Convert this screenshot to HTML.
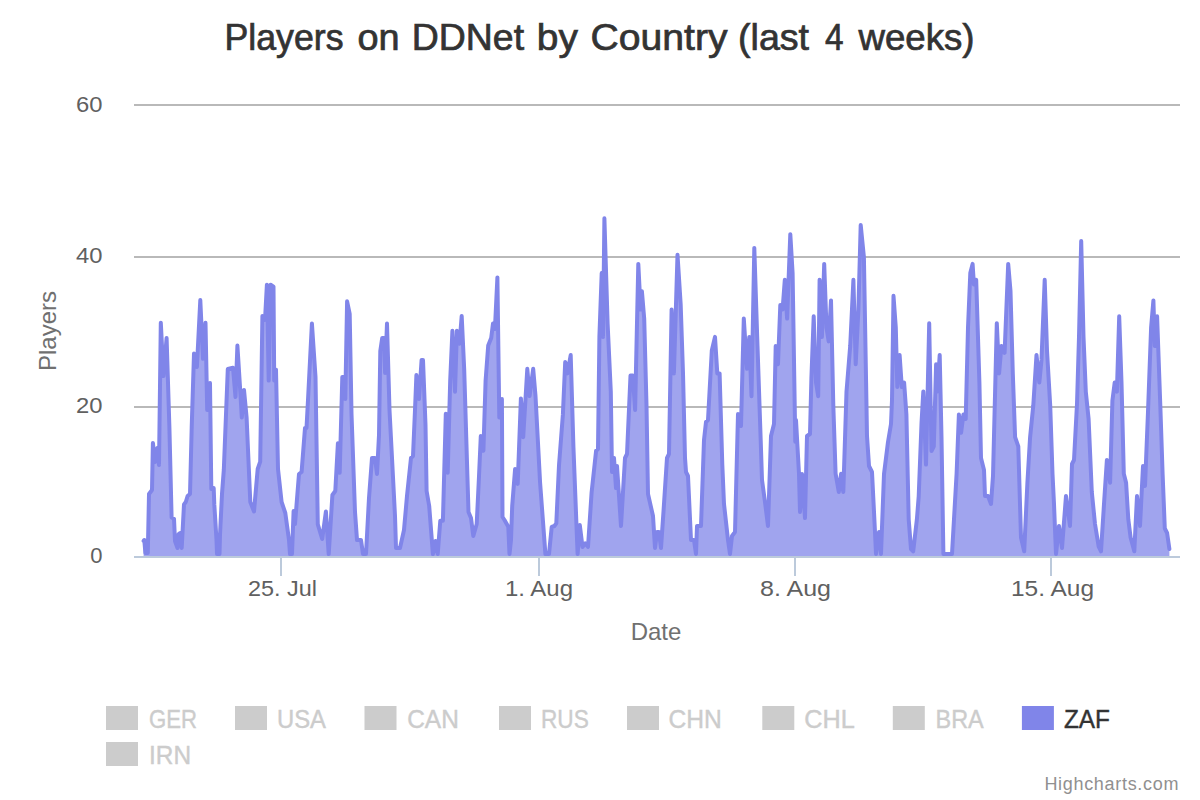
<!DOCTYPE html>
<html><head><meta charset="utf-8">
<style>
html,body{margin:0;padding:0;background:#fff;}
body{width:1200px;height:800px;overflow:hidden;position:relative;font-family:"Liberation Sans", sans-serif;}
svg{position:absolute;left:0;top:0;}
text{font-family:"Liberation Sans", sans-serif;}
</style></head><body>
<svg width="1200" height="800" viewBox="0 0 1200 800">
<rect x="0" y="0" width="1200" height="800" fill="#ffffff"/>
<g fill="#b9b9b9">
<rect x="134" y="104" width="1046" height="2"/>
<rect x="134" y="256" width="1046" height="2"/>
<rect x="134" y="406" width="1046" height="2"/>
</g>
<defs><clipPath id="pc"><rect x="134" y="0" width="1046" height="556.5"/></clipPath></defs>
<g clip-path="url(#pc)">
<path d="M143.6 541.0 L144.3 540.0 L145.4 553.0 L147.8 553.0 L149.0 494.0 L152.0 490.0 L152.9 443.0 L155.0 462.0 L157.3 448.0 L159.0 465.0 L160.8 322.7 L163.5 376.0 L166.6 338.0 L169.4 427.5 L169.4 427.5 L171.6 517.5 L174.0 518.7 L175.0 541.0 L177.5 548.0 L178.7 534.0 L180.0 533.0 L181.7 548.0 L184.0 504.4 L185.8 502.0 L187.6 496.0 L190.0 494.0 L191.7 427.5 L191.7 427.5 L194.0 353.6 L196.9 367.0 L200.3 300.0 L203.0 358.8 L205.5 322.7 L207.2 410.0 L210.0 383.0 L211.3 489.0 L212.0 488.0 L213.7 488.0 L214.3 504.4 L216.5 540.0 L217.0 554.0 L219.5 554.0 L220.0 535.0 L222.0 494.0 L223.8 470.0 L227.8 369.0 L233.0 367.7 L235.5 397.0 L237.4 345.6 L240.3 391.7 L241.8 417.5 L244.0 390.0 L246.6 417.5 L250.3 502.0 L254.0 511.5 L257.7 469.0 L260.2 461.7 L262.4 316.0 L265.0 319.8 L266.9 284.7 L268.7 380.6 L270.6 284.7 L273.5 286.6 L274.2 380.6 L276.0 369.6 L278.0 469.0 L281.6 502.0 L285.3 513.0 L289.0 540.0 L290.0 554.0 L292.0 554.0 L293.6 511.0 L295.0 524.0 L299.0 474.0 L301.6 472.0 L305.0 428.0 L306.5 428.0 L308.0 400.0 L311.9 323.5 L315.5 377.0 L317.8 524.4 L322.2 539.0 L325.9 511.5 L328.7 554.0 L332.4 495.0 L335.3 491.0 L337.9 443.3 L339.7 472.8 L342.3 377.0 L344.5 377.0 L345.3 399.0 L347.1 301.3 L349.7 314.0 L351.5 413.8 L355.0 512.0 L357.0 540.0 L361.0 540.0 L363.0 554.0 L366.0 554.0 L369.0 498.0 L372.0 458.0 L375.0 458.0 L377.0 474.0 L379.0 435.0 L380.3 351.0 L382.2 338.0 L384.0 338.0 L385.1 373.0 L387.0 323.5 L389.5 410.0 L392.0 458.0 L395.0 516.0 L396.0 548.0 L400.0 548.0 L404.0 530.0 L407.0 496.0 L411.0 458.0 L413.0 456.0 L415.0 410.0 L416.4 375.0 L419.0 399.0 L421.6 360.0 L423.0 360.0 L425.5 425.0 L426.6 491.0 L429.2 506.0 L432.9 554.0 L435.5 541.0 L437.7 554.0 L440.3 520.7 L442.9 520.7 L445.8 413.8 L447.7 472.8 L450.2 380.6 L452.4 330.8 L455.0 391.7 L456.9 330.8 L459.5 343.7 L461.7 316.0 L464.2 369.6 L467.2 469.0 L468.5 512.0 L471.0 518.0 L473.3 536.0 L476.7 524.0 L479.0 476.5 L479.0 476.5 L480.8 436.0 L483.4 450.7 L485.6 380.6 L488.2 345.6 L491.2 338.0 L493.0 323.5 L494.9 329.0 L497.4 277.4 L499.3 417.5 L501.9 399.0 L502.5 517.0 L504.5 520.0 L507.0 524.4 L508.3 527.0 L509.5 554.0 L511.0 540.0 L512.2 506.0 L515.1 469.0 L517.7 483.9 L520.9 398.4 L523.2 437.2 L527.3 368.8 L529.6 396.0 L533.2 368.8 L535.5 396.0 L540.1 482.8 L545.4 554.0 L549.0 554.0 L551.7 527.0 L554.4 526.0 L556.3 523.3 L559.0 465.3 L562.9 414.4 L565.2 362.0 L567.5 373.4 L570.7 355.0 L573.4 446.4 L577.6 554.0 L579.8 525.1 L582.5 546.9 L585.3 543.3 L588.0 546.9 L591.6 492.5 L596.1 450.8 L598.0 449.0 L599.4 336.9 L601.7 273.0 L603.0 336.9 L604.4 218.2 L607.6 323.2 L610.8 391.6 L612.0 472.0 L614.0 458.0 L616.0 488.0 L617.0 466.0 L621.0 526.0 L625.0 458.0 L627.0 454.0 L630.5 375.6 L632.8 375.6 L635.1 409.9 L638.3 263.9 L640.6 309.5 L641.9 291.2 L644.2 318.6 L646.5 405.3 L648.0 494.0 L653.0 516.0 L655.0 548.0 L657.0 532.0 L659.0 532.0 L661.0 548.0 L663.6 510.0 L667.0 458.0 L669.0 454.0 L671.6 309.5 L673.9 373.4 L677.5 254.7 L680.7 305.0 L683.0 373.4 L685.0 458.0 L686.0 472.0 L688.0 476.0 L691.0 540.0 L694.0 540.0 L696.0 554.0 L697.0 526.0 L701.0 526.0 L704.0 440.0 L706.0 422.0 L708.0 420.0 L711.8 350.5 L715.0 336.9 L717.3 373.4 L719.6 373.4 L722.3 464.6 L724.0 504.0 L728.0 540.0 L730.0 554.0 L732.0 536.0 L735.0 532.0 L738.0 414.0 L741.0 426.0 L743.8 318.6 L747.0 368.8 L749.3 336.9 L751.5 396.2 L754.3 247.9 L757.5 346.0 L760.7 440.0 L762.0 480.0 L765.0 502.0 L768.0 526.0 L771.0 436.0 L774.0 424.0 L775.7 346.0 L778.0 364.2 L780.3 305.0 L782.6 309.5 L784.8 279.8 L787.1 318.6 L790.3 234.2 L792.6 273.0 L795.3 441.8 L796.0 420.0 L799.0 474.0 L800.0 512.0 L802.0 474.0 L805.0 518.0 L807.0 436.0 L810.0 434.0 L811.4 378.0 L811.4 378.0 L813.7 316.3 L816.0 382.5 L818.2 396.2 L819.6 279.8 L821.9 336.9 L824.2 263.9 L826.5 327.7 L828.7 341.4 L831.0 300.4 L833.3 405.3 L835.6 473.7 L838.8 492.0 L841.1 473.7 L843.3 492.0 L846.5 391.6 L850.2 346.0 L853.4 279.8 L855.7 364.2 L858.4 309.5 L860.7 225.0 L863.9 257.0 L866.1 382.5 L867.0 436.0 L869.0 466.0 L872.0 472.0 L875.0 532.0 L876.0 554.0 L879.0 532.0 L881.0 554.0 L884.0 474.0 L888.0 442.0 L891.0 424.0 L892.0 400.0 L893.5 295.8 L893.5 295.8 L895.8 327.7 L897.3 387.0 L899.6 355.0 L901.8 387.0 L904.1 382.5 L906.4 414.4 L908.7 519.3 L911.0 549.0 L913.2 551.3 L916.9 519.3 L918.7 496.5 L921.5 423.5 L923.3 391.6 L926.0 464.6 L929.2 323.2 L931.5 451.0 L933.8 446.4 L936.1 364.2 L937.4 391.6 L939.7 355.0 L941.5 437.2 L943.4 554.0 L952.0 554.0 L956.6 473.7 L958.9 414.4 L961.1 432.7 L963.4 414.4 L965.7 419.0 L968.0 327.7 L970.3 273.0 L972.6 263.9 L973.9 284.4 L976.2 279.8 L979.4 382.5 L981.0 458.0 L984.0 470.0 L985.0 496.0 L988.0 496.0 L991.0 504.0 L993.0 476.0 L996.8 323.2 L999.1 373.4 L1001.4 346.0 L1004.6 352.8 L1008.2 263.9 L1010.5 291.2 L1012.8 373.4 L1015.1 437.2 L1018.3 446.4 L1021.0 537.6 L1024.2 551.3 L1027.4 482.8 L1030.1 437.2 L1033.3 405.3 L1036.5 355.0 L1039.3 382.5 L1041.5 359.7 L1044.7 279.8 L1047.0 350.5 L1050.2 405.3 L1052.5 473.7 L1054.0 504.0 L1056.0 554.0 L1059.0 526.0 L1062.0 548.0 L1066.0 496.0 L1070.0 526.0 L1072.0 464.0 L1074.0 460.0 L1077.0 404.0 L1079.0 336.9 L1079.0 336.9 L1081.2 241.0 L1083.5 336.9 L1085.8 391.6 L1088.6 419.0 L1091.8 492.0 L1095.0 524.0 L1098.7 546.7 L1101.0 551.3 L1104.2 501.0 L1106.9 460.0 L1110.1 482.8 L1112.4 400.7 L1114.7 382.5 L1116.9 391.6 L1119.2 316.3 L1121.5 382.5 L1123.8 473.7 L1126.1 482.8 L1128.3 519.3 L1130.6 537.6 L1134.3 551.3 L1137.0 496.0 L1140.0 526.0 L1143.0 466.0 L1145.0 486.0 L1148.0 412.0 L1151.1 327.7 L1151.1 327.7 L1153.4 300.4 L1154.8 346.0 L1157.1 316.3 L1160.3 405.3 L1162.6 473.7 L1164.8 528.5 L1167.1 533.0 L1169.4 549.0 L1169.4 559 L143.6 559 Z" fill="#a0a4ee" stroke="none"/>
<path d="M143.6 541.0 L144.3 540.0 L145.4 553.0 L147.8 553.0 L149.0 494.0 L152.0 490.0 L152.9 443.0 L155.0 462.0 L157.3 448.0 L159.0 465.0 L160.8 322.7 L163.5 376.0 L166.6 338.0 L169.4 427.5 L169.4 427.5 L171.6 517.5 L174.0 518.7 L175.0 541.0 L177.5 548.0 L178.7 534.0 L180.0 533.0 L181.7 548.0 L184.0 504.4 L185.8 502.0 L187.6 496.0 L190.0 494.0 L191.7 427.5 L191.7 427.5 L194.0 353.6 L196.9 367.0 L200.3 300.0 L203.0 358.8 L205.5 322.7 L207.2 410.0 L210.0 383.0 L211.3 489.0 L212.0 488.0 L213.7 488.0 L214.3 504.4 L216.5 540.0 L217.0 554.0 L219.5 554.0 L220.0 535.0 L222.0 494.0 L223.8 470.0 L227.8 369.0 L233.0 367.7 L235.5 397.0 L237.4 345.6 L240.3 391.7 L241.8 417.5 L244.0 390.0 L246.6 417.5 L250.3 502.0 L254.0 511.5 L257.7 469.0 L260.2 461.7 L262.4 316.0 L265.0 319.8 L266.9 284.7 L268.7 380.6 L270.6 284.7 L273.5 286.6 L274.2 380.6 L276.0 369.6 L278.0 469.0 L281.6 502.0 L285.3 513.0 L289.0 540.0 L290.0 554.0 L292.0 554.0 L293.6 511.0 L295.0 524.0 L299.0 474.0 L301.6 472.0 L305.0 428.0 L306.5 428.0 L308.0 400.0 L311.9 323.5 L315.5 377.0 L317.8 524.4 L322.2 539.0 L325.9 511.5 L328.7 554.0 L332.4 495.0 L335.3 491.0 L337.9 443.3 L339.7 472.8 L342.3 377.0 L344.5 377.0 L345.3 399.0 L347.1 301.3 L349.7 314.0 L351.5 413.8 L355.0 512.0 L357.0 540.0 L361.0 540.0 L363.0 554.0 L366.0 554.0 L369.0 498.0 L372.0 458.0 L375.0 458.0 L377.0 474.0 L379.0 435.0 L380.3 351.0 L382.2 338.0 L384.0 338.0 L385.1 373.0 L387.0 323.5 L389.5 410.0 L392.0 458.0 L395.0 516.0 L396.0 548.0 L400.0 548.0 L404.0 530.0 L407.0 496.0 L411.0 458.0 L413.0 456.0 L415.0 410.0 L416.4 375.0 L419.0 399.0 L421.6 360.0 L423.0 360.0 L425.5 425.0 L426.6 491.0 L429.2 506.0 L432.9 554.0 L435.5 541.0 L437.7 554.0 L440.3 520.7 L442.9 520.7 L445.8 413.8 L447.7 472.8 L450.2 380.6 L452.4 330.8 L455.0 391.7 L456.9 330.8 L459.5 343.7 L461.7 316.0 L464.2 369.6 L467.2 469.0 L468.5 512.0 L471.0 518.0 L473.3 536.0 L476.7 524.0 L479.0 476.5 L479.0 476.5 L480.8 436.0 L483.4 450.7 L485.6 380.6 L488.2 345.6 L491.2 338.0 L493.0 323.5 L494.9 329.0 L497.4 277.4 L499.3 417.5 L501.9 399.0 L502.5 517.0 L504.5 520.0 L507.0 524.4 L508.3 527.0 L509.5 554.0 L511.0 540.0 L512.2 506.0 L515.1 469.0 L517.7 483.9 L520.9 398.4 L523.2 437.2 L527.3 368.8 L529.6 396.0 L533.2 368.8 L535.5 396.0 L540.1 482.8 L545.4 554.0 L549.0 554.0 L551.7 527.0 L554.4 526.0 L556.3 523.3 L559.0 465.3 L562.9 414.4 L565.2 362.0 L567.5 373.4 L570.7 355.0 L573.4 446.4 L577.6 554.0 L579.8 525.1 L582.5 546.9 L585.3 543.3 L588.0 546.9 L591.6 492.5 L596.1 450.8 L598.0 449.0 L599.4 336.9 L601.7 273.0 L603.0 336.9 L604.4 218.2 L607.6 323.2 L610.8 391.6 L612.0 472.0 L614.0 458.0 L616.0 488.0 L617.0 466.0 L621.0 526.0 L625.0 458.0 L627.0 454.0 L630.5 375.6 L632.8 375.6 L635.1 409.9 L638.3 263.9 L640.6 309.5 L641.9 291.2 L644.2 318.6 L646.5 405.3 L648.0 494.0 L653.0 516.0 L655.0 548.0 L657.0 532.0 L659.0 532.0 L661.0 548.0 L663.6 510.0 L667.0 458.0 L669.0 454.0 L671.6 309.5 L673.9 373.4 L677.5 254.7 L680.7 305.0 L683.0 373.4 L685.0 458.0 L686.0 472.0 L688.0 476.0 L691.0 540.0 L694.0 540.0 L696.0 554.0 L697.0 526.0 L701.0 526.0 L704.0 440.0 L706.0 422.0 L708.0 420.0 L711.8 350.5 L715.0 336.9 L717.3 373.4 L719.6 373.4 L722.3 464.6 L724.0 504.0 L728.0 540.0 L730.0 554.0 L732.0 536.0 L735.0 532.0 L738.0 414.0 L741.0 426.0 L743.8 318.6 L747.0 368.8 L749.3 336.9 L751.5 396.2 L754.3 247.9 L757.5 346.0 L760.7 440.0 L762.0 480.0 L765.0 502.0 L768.0 526.0 L771.0 436.0 L774.0 424.0 L775.7 346.0 L778.0 364.2 L780.3 305.0 L782.6 309.5 L784.8 279.8 L787.1 318.6 L790.3 234.2 L792.6 273.0 L795.3 441.8 L796.0 420.0 L799.0 474.0 L800.0 512.0 L802.0 474.0 L805.0 518.0 L807.0 436.0 L810.0 434.0 L811.4 378.0 L811.4 378.0 L813.7 316.3 L816.0 382.5 L818.2 396.2 L819.6 279.8 L821.9 336.9 L824.2 263.9 L826.5 327.7 L828.7 341.4 L831.0 300.4 L833.3 405.3 L835.6 473.7 L838.8 492.0 L841.1 473.7 L843.3 492.0 L846.5 391.6 L850.2 346.0 L853.4 279.8 L855.7 364.2 L858.4 309.5 L860.7 225.0 L863.9 257.0 L866.1 382.5 L867.0 436.0 L869.0 466.0 L872.0 472.0 L875.0 532.0 L876.0 554.0 L879.0 532.0 L881.0 554.0 L884.0 474.0 L888.0 442.0 L891.0 424.0 L892.0 400.0 L893.5 295.8 L893.5 295.8 L895.8 327.7 L897.3 387.0 L899.6 355.0 L901.8 387.0 L904.1 382.5 L906.4 414.4 L908.7 519.3 L911.0 549.0 L913.2 551.3 L916.9 519.3 L918.7 496.5 L921.5 423.5 L923.3 391.6 L926.0 464.6 L929.2 323.2 L931.5 451.0 L933.8 446.4 L936.1 364.2 L937.4 391.6 L939.7 355.0 L941.5 437.2 L943.4 554.0 L952.0 554.0 L956.6 473.7 L958.9 414.4 L961.1 432.7 L963.4 414.4 L965.7 419.0 L968.0 327.7 L970.3 273.0 L972.6 263.9 L973.9 284.4 L976.2 279.8 L979.4 382.5 L981.0 458.0 L984.0 470.0 L985.0 496.0 L988.0 496.0 L991.0 504.0 L993.0 476.0 L996.8 323.2 L999.1 373.4 L1001.4 346.0 L1004.6 352.8 L1008.2 263.9 L1010.5 291.2 L1012.8 373.4 L1015.1 437.2 L1018.3 446.4 L1021.0 537.6 L1024.2 551.3 L1027.4 482.8 L1030.1 437.2 L1033.3 405.3 L1036.5 355.0 L1039.3 382.5 L1041.5 359.7 L1044.7 279.8 L1047.0 350.5 L1050.2 405.3 L1052.5 473.7 L1054.0 504.0 L1056.0 554.0 L1059.0 526.0 L1062.0 548.0 L1066.0 496.0 L1070.0 526.0 L1072.0 464.0 L1074.0 460.0 L1077.0 404.0 L1079.0 336.9 L1079.0 336.9 L1081.2 241.0 L1083.5 336.9 L1085.8 391.6 L1088.6 419.0 L1091.8 492.0 L1095.0 524.0 L1098.7 546.7 L1101.0 551.3 L1104.2 501.0 L1106.9 460.0 L1110.1 482.8 L1112.4 400.7 L1114.7 382.5 L1116.9 391.6 L1119.2 316.3 L1121.5 382.5 L1123.8 473.7 L1126.1 482.8 L1128.3 519.3 L1130.6 537.6 L1134.3 551.3 L1137.0 496.0 L1140.0 526.0 L1143.0 466.0 L1145.0 486.0 L1148.0 412.0 L1151.1 327.7 L1151.1 327.7 L1153.4 300.4 L1154.8 346.0 L1157.1 316.3 L1160.3 405.3 L1162.6 473.7 L1164.8 528.5 L1167.1 533.0 L1169.4 549.0" fill="none" stroke="#8085e9" stroke-width="4" stroke-linejoin="round" stroke-linecap="round"/>
</g>
<rect x="134" y="556" width="1046" height="2" fill="#bccadb"/>
<g fill="#bccadb">
<rect x="280" y="557" width="2" height="19"/>
<rect x="538" y="557" width="2" height="19"/>
<rect x="794" y="557" width="2" height="19"/>
<rect x="1050" y="557" width="2" height="19"/>
</g>
<rect x="106" y="706" width="32" height="24" fill="#cccccc"/>
<rect x="235" y="706" width="32" height="24" fill="#cccccc"/>
<rect x="364.5" y="706" width="32" height="24" fill="#cccccc"/>
<rect x="499" y="706" width="32" height="24" fill="#cccccc"/>
<rect x="627" y="706" width="32" height="24" fill="#cccccc"/>
<rect x="762.3" y="706" width="32" height="24" fill="#cccccc"/>
<rect x="892.8" y="706" width="32" height="24" fill="#cccccc"/>
<rect x="106" y="742" width="32" height="24" fill="#cccccc"/>
<rect x="1021.9" y="706" width="32" height="24" fill="#8085e9"/>
<text x="224.5" y="50" font-size="36" fill="#333333" text-anchor="start" textLength="119.06" lengthAdjust="spacingAndGlyphs" stroke="#333333" stroke-width="0.7">Players</text>
<text x="357.5" y="50" font-size="36" fill="#333333" text-anchor="start" textLength="42.13" lengthAdjust="spacingAndGlyphs" stroke="#333333" stroke-width="0.7">on</text>
<text x="411.75" y="50" font-size="36" fill="#333333" text-anchor="start" textLength="112.3" lengthAdjust="spacingAndGlyphs" stroke="#333333" stroke-width="0.7">DDNet</text>
<text x="536.75" y="50" font-size="36" fill="#333333" text-anchor="start" textLength="41.08" lengthAdjust="spacingAndGlyphs" stroke="#333333" stroke-width="0.7">by</text>
<text x="590.5" y="50" font-size="36" fill="#333333" text-anchor="start" textLength="137.0" lengthAdjust="spacingAndGlyphs" stroke="#333333" stroke-width="0.7">Country</text>
<text x="738.0" y="50" font-size="36" fill="#333333" text-anchor="start" textLength="71.06" lengthAdjust="spacingAndGlyphs" stroke="#333333" stroke-width="0.7">(last</text>
<text x="825.0" y="50" font-size="36" fill="#333333" text-anchor="start" textLength="18.52" lengthAdjust="spacingAndGlyphs" stroke="#333333" stroke-width="0.7">4</text>
<text x="858.5" y="50" font-size="36" fill="#333333" text-anchor="start" textLength="116.01" lengthAdjust="spacingAndGlyphs" stroke="#333333" stroke-width="0.7">weeks)</text>
<text x="102.5" y="112" font-size="22" fill="#606060" text-anchor="end" textLength="26.5" lengthAdjust="spacingAndGlyphs" >60</text>
<text x="102.5" y="263" font-size="22" fill="#606060" text-anchor="end" textLength="26.5" lengthAdjust="spacingAndGlyphs" >40</text>
<text x="102.5" y="412.5" font-size="22" fill="#606060" text-anchor="end" textLength="26.5" lengthAdjust="spacingAndGlyphs" >20</text>
<text x="102.5" y="563" font-size="22" fill="#606060" text-anchor="end" >0</text>
<text x="282.5" y="596" font-size="22" fill="#606060" text-anchor="middle" textLength="69" lengthAdjust="spacingAndGlyphs" >25. Jul</text>
<text x="539" y="596" font-size="22" fill="#606060" text-anchor="middle" textLength="68" lengthAdjust="spacingAndGlyphs" >1. Aug</text>
<text x="795.5" y="596" font-size="22" fill="#606060" text-anchor="middle" textLength="71" lengthAdjust="spacingAndGlyphs" >8. Aug</text>
<text x="1052.5" y="596" font-size="22" fill="#606060" text-anchor="middle" textLength="83" lengthAdjust="spacingAndGlyphs" >15. Aug</text>
<text x="656" y="640" font-size="24" fill="#707070" text-anchor="middle" >Date</text>
<text transform="translate(56,331) rotate(-90)" fill="#707070" font-size="24" text-anchor="middle">Players</text>
<text x="149" y="728" font-size="25" fill="#cccccc" text-anchor="start" textLength="48" lengthAdjust="spacingAndGlyphs" stroke="#cccccc" stroke-width="0.4">GER</text>
<text x="277" y="728" font-size="25" fill="#cccccc" text-anchor="start" textLength="49" lengthAdjust="spacingAndGlyphs" stroke="#cccccc" stroke-width="0.4">USA</text>
<text x="407.2" y="728" font-size="25" fill="#cccccc" text-anchor="start" textLength="51.6" lengthAdjust="spacingAndGlyphs" stroke="#cccccc" stroke-width="0.4">CAN</text>
<text x="541" y="728" font-size="25" fill="#cccccc" text-anchor="start" textLength="47.8" lengthAdjust="spacingAndGlyphs" stroke="#cccccc" stroke-width="0.4">RUS</text>
<text x="668.5" y="728" font-size="25" fill="#cccccc" text-anchor="start" textLength="53.3" lengthAdjust="spacingAndGlyphs" stroke="#cccccc" stroke-width="0.4">CHN</text>
<text x="804.3" y="728" font-size="25" fill="#cccccc" text-anchor="start" textLength="50.5" lengthAdjust="spacingAndGlyphs" stroke="#cccccc" stroke-width="0.4">CHL</text>
<text x="935.5" y="728" font-size="25" fill="#cccccc" text-anchor="start" textLength="48.2" lengthAdjust="spacingAndGlyphs" stroke="#cccccc" stroke-width="0.4">BRA</text>
<text x="149" y="764" font-size="25" fill="#cccccc" text-anchor="start" textLength="42" lengthAdjust="spacingAndGlyphs" stroke="#cccccc" stroke-width="0.4">IRN</text>
<text x="1063.9" y="728" font-size="25" fill="#333333" text-anchor="start" textLength="46" lengthAdjust="spacingAndGlyphs" stroke="#333333" stroke-width="0.4">ZAF</text>
<text x="1178.4" y="790" fill="#909090" font-size="18" text-anchor="end" textLength="134" lengthAdjust="spacing">Highcharts.com</text>
</svg>
</body></html>
